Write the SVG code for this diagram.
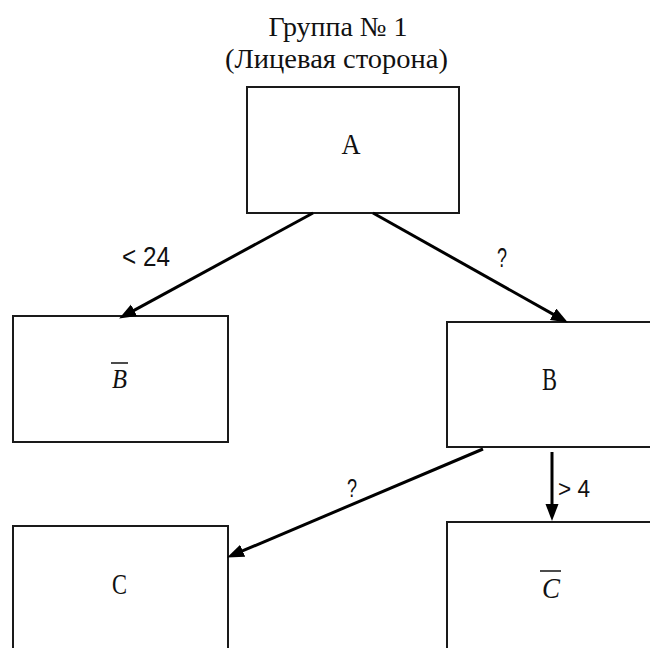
<svg xmlns="http://www.w3.org/2000/svg" width="650" height="648" viewBox="0 0 650 648">
  <style>
    .box { fill: #ffffff; stroke: #1a1a1a; stroke-width: 2; }
    .lbl { font-family: "Liberation Serif", "Times New Roman", serif; fill: #111; text-anchor: middle; }
    .sans { font-family: "Liberation Sans", Arial, sans-serif; fill: #111; }
    .edge { stroke: #000; stroke-width: 3; fill: none; }
    .bar { stroke: #111; stroke-width: 1.5; }
  </style>
  <defs>
    <marker id="ah" markerUnits="userSpaceOnUse" markerWidth="18" markerHeight="14" refX="10" refY="6.5" orient="auto">
      <path d="M0,0 L17,6.5 L0,13 z" fill="#000"/>
    </marker>
  </defs>
  <rect x="0" y="0" width="650" height="648" fill="#ffffff"/>

  <g id="title">
    <text class="lbl" x="338" y="36" font-size="28" textLength="139" lengthAdjust="spacingAndGlyphs">Группа № 1</text>
    <text class="lbl" x="336.5" y="68" font-size="28" textLength="223" lengthAdjust="spacingAndGlyphs">(Лицевая сторона)</text>
  </g>

  <g id="node-A">
    <rect class="box" x="247" y="87" width="212" height="126"/>
    <text class="lbl" x="351" y="154" font-size="30" textLength="19" lengthAdjust="spacingAndGlyphs">A</text>
  </g>

  <g id="node-notB">
    <rect class="box" x="13" y="316" width="215" height="126"/>
    <line class="bar" x1="111" y1="363" x2="128" y2="363"/>
    <text class="lbl" x="119.5" y="388" font-size="27" font-style="italic" textLength="15" lengthAdjust="spacingAndGlyphs">B</text>
  </g>

  <g id="node-B">
    <rect class="box" x="447" y="322" width="215" height="125"/>
    <text class="lbl" x="549.5" y="390" font-size="31" textLength="15" lengthAdjust="spacingAndGlyphs">B</text>
  </g>

  <g id="node-C">
    <rect class="box" x="13" y="526" width="215" height="140"/>
    <text class="lbl" x="119.5" y="594" font-size="29" textLength="15" lengthAdjust="spacingAndGlyphs">C</text>
  </g>

  <g id="node-notC">
    <rect class="box" x="447" y="522" width="215" height="140"/>
    <line class="bar" x1="540" y1="571" x2="561" y2="571"/>
    <text class="lbl" x="551" y="598" font-size="30" font-style="italic" textLength="18" lengthAdjust="spacingAndGlyphs">C</text>
  </g>

  <g id="connectors">
    <line class="edge" x1="313" y1="213" x2="125.3" y2="315.1" marker-end="url(#ah)"/>
    <line class="edge" x1="373" y1="213" x2="561.8" y2="319.1" marker-end="url(#ah)"/>
    <line class="edge" x1="483" y1="449" x2="233.5" y2="554.7" marker-end="url(#ah)"/>
    <line class="edge" x1="552" y1="452" x2="552" y2="514" stroke-width="4" marker-end="url(#ah)"/>
    <text class="sans" x="122" y="266" font-size="27" textLength="48" lengthAdjust="spacingAndGlyphs">&lt; 24</text>
    <text class="sans" x="497" y="267" font-size="27" textLength="10" lengthAdjust="spacingAndGlyphs">?</text>
    <text class="sans" x="347" y="497" font-size="26" textLength="10" lengthAdjust="spacingAndGlyphs">?</text>
    <text class="sans" x="558" y="497" font-size="24" textLength="32" lengthAdjust="spacingAndGlyphs">&gt; 4</text>
  </g>
</svg>
